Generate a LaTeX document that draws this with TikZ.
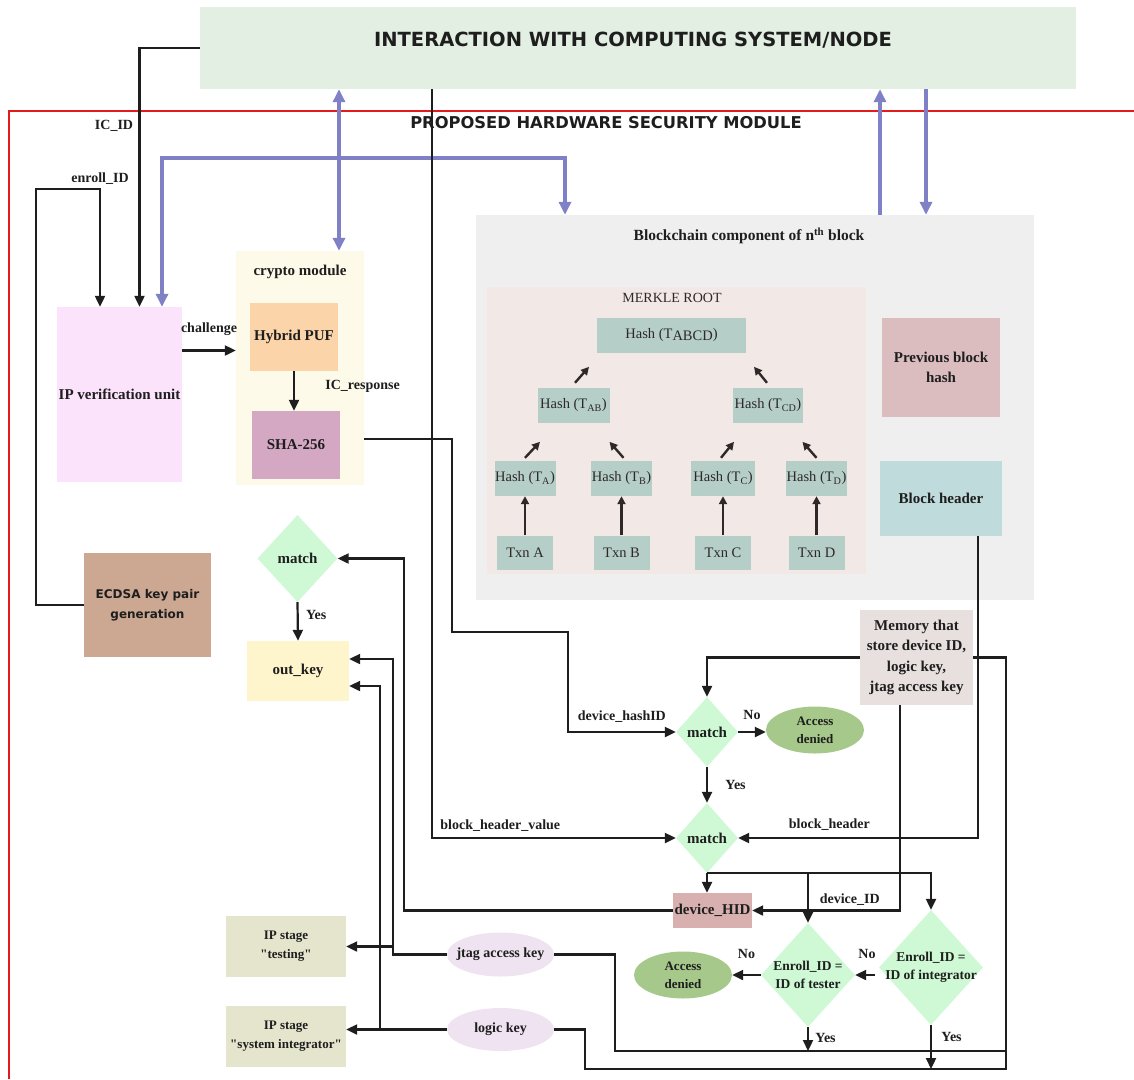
\documentclass[tikz,border=0pt]{standalone}
\usepackage{fontspec}
\setmainfont{Liberation Serif}
\newfontfamily\headsans{DejaVu Sans}
\usepackage{tikz}
\usetikzlibrary{shapes,arrows,positioning,calc,arrows.meta}

\definecolor{ink}{HTML}{1E1E1E}
\definecolor{treeink}{HTML}{2E2828}
\definecolor{framered}{HTML}{E31B1B}
\definecolor{busblue}{HTML}{7F80C6}
\definecolor{ifacegreen}{HTML}{E3EFE2}
\definecolor{ippink}{HTML}{FBE3FB}
\definecolor{cryptocream}{HTML}{FEFAEA}
\definecolor{pufpeach}{HTML}{FBD4A9}
\definecolor{shamauve}{HTML}{D4A7C3}
\definecolor{chaingray}{HTML}{EFEFEF}
\definecolor{merklerose}{HTML}{F2E8E6}
\definecolor{hashteal}{HTML}{B5CEC7}
\definecolor{prevrose}{HTML}{DCBDBF}
\definecolor{headerteal}{HTML}{BFDBDB}
\definecolor{memgray}{HTML}{E8DFDF}
\definecolor{matchgreen}{HTML}{CEF9D4}
\definecolor{deniedgreen}{HTML}{A6C98B}
\definecolor{hidrose}{HTML}{D8B0B0}
\definecolor{stagekhaki}{HTML}{E5E5CE}
\definecolor{keylilac}{HTML}{EFE3F1}
\definecolor{outcream}{HTML}{FFF5CC}
\definecolor{ecdsatan}{HTML}{CCA893}

\begin{document}
\begin{tikzpicture}[x=1pt, y=-1pt, node distance=74pt,
    every node/.style={text=ink, align=center},
    box/.style={rectangle, inner sep=0pt, font=\bfseries\fontsize{15}{20}\selectfont},
    hashbox/.style={rectangle, fill=hashteal, inner sep=0pt, minimum width=61pt, minimum height=35pt, text=treeink, font=\fontsize{14.5}{16}\selectfont},
    txnbox/.style={hashbox, minimum width=56pt, minimum height=34pt},
    decision/.style={diamond, fill=matchgreen, inner sep=0pt, font=\bfseries\fontsize{15}{18}\selectfont},
    dtext/.style={font=\bfseries\fontsize{13.5}{18}\selectfont},
    denied/.style={ellipse, fill=deniedgreen, inner sep=0pt, minimum width=98pt, minimum height=47pt, font=\bfseries\fontsize{13}{18}\selectfont},
    keyoval/.style={ellipse, fill=keylilac, inner sep=0pt, minimum width=107pt, minimum height=44pt},
    keytext/.style={font=\bfseries\fontsize{14}{17}\selectfont},
    stage/.style={rectangle, fill=stagekhaki, inner sep=0pt, minimum width=120pt, minimum height=61pt, font=\bfseries\fontsize{13}{19}\selectfont},
    lbl/.style={font=\bfseries\fontsize{14}{16}\selectfont},
    arr/.style={draw=ink, line width=2.2pt, -{Triangle[length=11pt,width=10pt]}},
    wire/.style={draw=ink, line width=2.2pt},
    bus/.style={draw=busblue, line width=3.8pt, {Triangle[length=13pt,width=12pt]}-{Triangle[length=13pt,width=12pt]}},
    busin/.style={draw=busblue, line width=3.8pt, -{Triangle[length=13pt,width=12pt]}},
    treearrow/.style={draw=treeink, line width=2.4pt, -{Triangle[length=8pt,width=8pt]}}]
\useasboundingbox (0,0) rectangle (1134,1079);

% module frame
\draw[draw=framered, line width=2pt] (1134,111) -- (9,111) -- (9,1079);

\node (iface) [rectangle, fill=ifacegreen, minimum width=876pt, minimum height=82pt,
    label={[font=\headsans\bfseries\fontsize{19.5}{22}\selectfont, xshift=-5pt, yshift=8pt]center:INTERACTION WITH COMPUTING SYSTEM/NODE}] at (638,48) {};
\node (hsm) [font=\headsans\bfseries\fontsize{16.3}{19}\selectfont] at (606,123) {PROPOSED HARDWARE SECURITY MODULE};

% left column
\node (ipunit) [box, fill=ippink, minimum width=125pt, minimum height=175pt] at (119.5,394.5) {IP verification unit};
\node (ecdsa) [box, fill=ecdsatan, minimum width=127pt, minimum height=104pt, font=\headsans\bfseries\fontsize{12}{20}\selectfont] at (147.5,605) {ECDSA key pair\\generation};
\node (crypto) [box, fill=cryptocream, minimum width=128pt, minimum height=234pt,
    label={[box, anchor=north, yshift=-14pt]north:crypto module}] at (300,368) {};
\node (puf) [box, fill=pufpeach, minimum width=88pt, minimum height=68pt] at (294,337) {Hybrid PUF};
\node (sha) [box, fill=shamauve, minimum width=88pt, minimum height=68pt] at (296,445) {SHA-256};

% blockchain block
\node (chain) [rectangle, fill=chaingray, minimum width=558pt, minimum height=385pt,
    label={[font=\bfseries\fontsize{15.5}{18}\selectfont, anchor=north, xshift=-6pt, yshift=-9.5pt]north:Blockchain component of n\textsuperscript{th} block}] at (755,407.5) {};
\node (merkle) [rectangle, fill=merklerose, minimum width=379pt, minimum height=287pt,
    label={[font=\fontsize{14}{16}\selectfont, text=treeink, anchor=north, xshift=-4.5pt, yshift=-3pt]north:MERKLE ROOT}] at (676.5,430.5) {};
\node (habcd) [hashbox, minimum width=149pt] at (671.5,335) {Hash (T\raisebox{-2.5pt}{ABCD})};
\node (hab) [hashbox, minimum width=72pt] at (573.5,405.5) {Hash (T\textsubscript{AB})};
\node (hcd) [hashbox, minimum width=70pt] at (768,405.5) {Hash (T\textsubscript{CD})};
\node (ha) [hashbox] at (525,478.5) {Hash (T\textsubscript{A})};
\node (hb) [hashbox] at (621.5,478.5) {Hash (T\textsubscript{B})};
\node (hc) [hashbox, minimum width=64pt] at (723,478.5) {Hash (T\textsubscript{C})};
\node (hd) [hashbox] at (816.5,478.5) {Hash (T\textsubscript{D})};
\node (txa) [txnbox, below of=ha] {Txn A};
\node (txb) [txnbox, below of=hb] {Txn B};
\node (txc) [txnbox, below of=hc] {Txn C};
\node (txd) [txnbox, below of=hd] {Txn D};
\node (prevhash) [box, fill=prevrose, minimum width=118pt, minimum height=99pt] at (941,367.5) {Previous block\\hash};
\node (header) [box, fill=headerteal, minimum width=122pt, minimum height=75pt] at (941,498.5) {Block header};

% checks
\node (memory) [box, fill=memgray, minimum width=113pt, minimum height=95pt, font=\bfseries\fontsize{15}{20.5}\selectfont] at (916.5,657.5) {Memory that\\store device ID,\\logic key,\\jtag access key};
\node (match1) [decision, minimum width=62pt, minimum height=70pt] at (707,732) {match};
\node (denied1) [denied] at (815,730) {Access\\denied};
\node (match2) [decision, minimum width=62pt, minimum height=70pt] at (707,838) {match};
\node (hid) [box, fill=hidrose, minimum width=79pt, minimum height=35pt] at (712.5,910.5) {device\_HID};
\node (enrtest) [decision, minimum width=94pt, minimum height=104pt,
    label={[dtext]center:{Enroll\_ID =\\ID of tester}}] at (808,975) {};
\node (enrint) [decision, minimum width=104pt, minimum height=115pt,
    label={[dtext]center:{Enroll\_ID =\\ID of integrator}}] at (931,967.5) {};
\node (denied2) [denied] at (683,975) {Access\\denied};
\node (match3) [decision, minimum width=80pt, minimum height=87pt] at (297.5,558.5) {match};
\node (outkey) [box, fill=outcream, minimum width=102pt, minimum height=60pt] at (298,671) {out\_key};
\node (testing) [stage] at (286,946.5) {IP stage\\\textquotedbl testing\textquotedbl};
\node (sysint) [stage] at (286,1036.5) {IP stage\\\textquotedbl system integrator\textquotedbl};
\node (jtag) [keyoval, label={[keytext]center:jtag access key}] at (500.5,954.5) {};
\node (logic) [keyoval, minimum height=43pt, label={[keytext]center:logic key}] at (500.5,1029.5) {};

% merkle tree
\draw[treearrow] (txa) -- (ha);
\draw[treearrow] (txb) -- (hb);
\draw[treearrow] (txc) -- (hc);
\draw[treearrow] (txd) -- (hd);
\draw[treearrow] ([yshift=3pt]ha.north) -- ++(15,-16);
\draw[treearrow] ([xshift=2pt,yshift=3pt]hb.north) -- ++(-14,-16);
\draw[treearrow] ([xshift=-2pt,yshift=3pt]hc.north) -- ++(13,-16);
\draw[treearrow] ([yshift=3pt]hd.north) -- ++(-14,-16);
\draw[treearrow] ([xshift=1.5pt,yshift=5pt]hab.north) -- ++(14,-16);
\draw[treearrow] ([xshift=-1pt,yshift=5pt]hcd.north) -- ++(-13,-16);

% ids into the verification unit
\coordinate (enrollturn) at (36,189);
\draw[arr] (iface.west) -| ([xshift=20pt]ipunit.north) node[lbl, pos=0.65, left=2pt] {IC\_ID};
\draw[arr] (ecdsa.west) -| (enrollturn) -| ([xshift=-19.5pt]ipunit.north) node[lbl, pos=0.5, above=0pt] {enroll\_ID};

% blue buses
\coordinate (busturn) at (162,158);
\draw[bus] ([xshift=42.5pt]ipunit.north) -- (busturn) -| ([xshift=-190pt]chain.north);
\draw[bus] ([xshift=39pt]crypto.north) -- ([xshift=39pt]crypto.north |- iface.south);
\draw[busin] ([xshift=125pt]chain.north) -- ([xshift=125pt]chain.north |- iface.south);
\draw[busin] ([xshift=171pt]chain.north |- iface.south) -- ([xshift=171pt]chain.north);

% crypto flow
\draw[arr] ([yshift=44pt]ipunit.east) -- ([yshift=44pt]ipunit.east -| crypto.west) node[lbl, midway, above=10pt] {challenge};
\draw[arr] (puf.south) -- (puf.south |- sha.north) node[lbl, pos=0.375, right=27pt] {IC\_response};
\coordinate (hashdrop) at (452,632);
\coordinate (hashturn) at (568,632);
\draw[arr] ([yshift=6pt]crypto.east |- sha.east) -| (hashdrop) -- (hashturn) |- (match1.west) node[lbl, pos=0.75, above=5pt] {device\_hashID};
\draw[arr] ([xshift=-206pt]iface.south) |- (match2.west) node[lbl, pos=0.64, above=2pt] {block\_header\_value};
\draw[arr] ([xshift=37pt]header.south) |- (match2.east) node[lbl, pos=0.81, above=3pt] {block\_header};

% memory checks
\draw[arr] (memory.west) -| (match1.north);
\draw[arr] ([xshift=-16.5pt]memory.south) |- (hid.east) node[lbl, pos=0.67, above=1pt] {device\_ID};
\draw[arr] (match1.east) -- (match1.east -| denied1.west) node[lbl, midway, above=8pt] {No};
\draw[arr] (match1.south) -- (match2.north) node[lbl, midway, right=14pt] {Yes};
\draw[arr] (match2.south) -- (match2.south |- hid.north);
\draw[arr] (match2.south) -| (enrint.north);
\draw[arr] (enrtest.north |- match2.south) -- (enrtest.north);
\draw[arr, shorten <=4pt] (enrint.west |- enrtest.east) -- (enrtest.east) node[lbl, midway, above=12pt] {No};
\draw[arr] (enrtest.west) -- (denied2.east) node[lbl, midway, above=12pt] {No};

% key release lines
\coordinate (logicright) at (1006,1069);
\coordinate (logicbase) at (585,1069);
\coordinate (jtagright) at (1006,1051);
\coordinate (jtagbase) at (615,1051);
\draw[wire] (memory.east) -- (memory.east -| logicright) -- (logicright) -- (logicbase) |- (logic.east);
\draw[wire] (jtagright) -- (jtagbase) |- (jtag.east);
\draw[arr] (enrtest.south) -- (enrtest.south |- jtagbase) node[lbl, pos=0.46, right=3pt] {Yes};
\draw[arr] (enrint.south) -- (enrint.south |- logicbase) node[lbl, pos=0.27, right=6pt] {Yes};

\coordinate (jtagtap) at (393,954.5);
\coordinate (logictap) at (380,1029.5);
\draw[arr] (jtag.west) -- (jtagtap) |- ([yshift=12pt]outkey.east);
\draw[arr] (jtagtap |- testing.east) -- (testing.east);
\draw[arr] (logic.west) -- (logic.west -| sysint.east);
\draw[arr] (logictap) |- ([yshift=-15pt]outkey.east);

\coordinate (hidturn) at (404,910.5);
\draw[arr] (hid.west) -- (hidturn) |- (match3.east);
\draw[arr] (match3.south) -- (outkey.north) node[lbl, pos=0.33, right=4pt] {Yes};
\end{tikzpicture}
\end{document}
